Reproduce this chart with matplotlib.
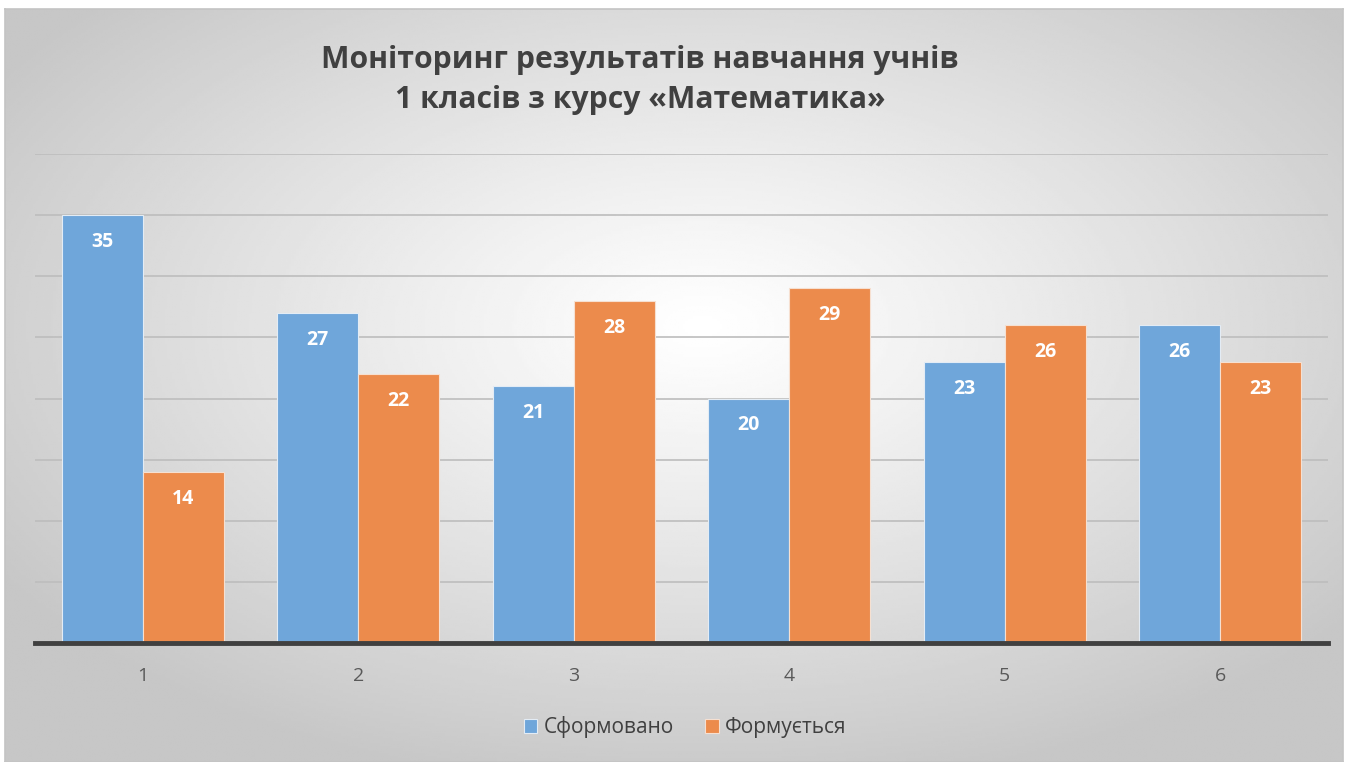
import numpy as np
import matplotlib
matplotlib.use("Agg")
import matplotlib.pyplot as plt

plt.rcParams['font.family'] = ['Open Sans', 'DejaVu Sans']

# data
groups = ['1', '2', '3', '4', '5', '6']
formed = [35, 27, 21, 20, 23, 26]
forming = [14, 22, 28, 29, 26, 23]
series_names = ['Сформовано', 'Формується']
title = 'Моніторинг результатів навчання учнів\n1 класів з курсу «Математика»'

blue = '#6fa6da'
orange = '#ec8b4c'

fig = plt.figure(figsize=(13.49, 7.62), dpi=100)
fig.patch.set_facecolor('white')

# background panel with radial gradient
bg = fig.add_axes([5 / 1349, 0, 1338 / 1349, 753 / 762])
ny, nx = 300, 540
yy, xx = np.mgrid[0:ny, 0:nx]
cx, cy = nx * 0.52, ny * 0.42
r = np.sqrt(((xx - cx) / nx) ** 2 + ((yy - cy) / ny) ** 2) / 0.62
r = np.clip(r, 0, 1)
shade = 1.0 - 0.22 * r ** 1.1
bg.imshow(shade, cmap='gray', vmin=0, vmax=1, aspect='auto', extent=[0, 1, 0, 1], origin='upper')
bg.set_xlim(0, 1)
bg.set_ylim(0, 1)
bg.set_xticks([])
bg.set_yticks([])
for s in bg.spines.values():
    s.set_color('#c4c4c4')
    s.set_linewidth(1.2)

ax = fig.add_axes([35 / 1349, 1 - 643 / 762, 1293 / 1349, 489 / 762])
ax.patch.set_alpha(0)

x = np.arange(len(groups))
w = 0.375
b1 = ax.bar(x - w / 2, formed, w, color=blue, edgecolor='#e3ecf5', linewidth=0.8, label=series_names[0], zorder=3)
b2 = ax.bar(x + w / 2, forming, w, color=orange, edgecolor='#f6e0d1', linewidth=0.8, label=series_names[1], zorder=3)

# value labels inside the top of each bar
for bars in (b1, b2):
    for rect in bars:
        h = rect.get_height()
        ax.annotate(f'{int(h)}', (rect.get_x() + rect.get_width() / 2, h),
                    xytext=(0, -27), textcoords='offset pixels',
                    ha='center', va='center', color='white', fontsize=14, fontweight='bold', zorder=4)

ax.set_xlim(-0.5, len(groups) - 0.5)
ax.set_ylim(0, 40)
ax.set_yticks(np.arange(0, 41, 5))
ax.yaxis.grid(True, color='#bdbdbd', linewidth=1.2, zorder=0)
ax.tick_params(axis='y', left=False, labelleft=False)
ax.set_xticks(x)
ax.set_xticklabels(groups, fontsize=14, color='#595959')
ax.tick_params(axis='x', length=0, pad=17)
for side in ('left', 'right', 'top'):
    ax.spines[side].set_visible(False)
ax.spines['bottom'].set_color('#404040')
ax.spines['bottom'].set_linewidth(3.5)
ax.spines['bottom'].set_zorder(5)

fig.text(640 / 1349, 1 - 80 / 762, title, ha='center', va='center', fontsize=21.7,
         fontweight='bold', color='#404040', linespacing=1.42)

fig.legend(handles=[b1, b2], labels=series_names, loc='center', bbox_to_anchor=(685 / 1349, 1 - 727 / 762),
           ncol=2, frameon=False, fontsize=15, handlelength=0.65, handleheight=0.65,
           handletextpad=0.3, columnspacing=1.5, labelcolor='#404040')

fig.savefig('out.png', dpi=100)
